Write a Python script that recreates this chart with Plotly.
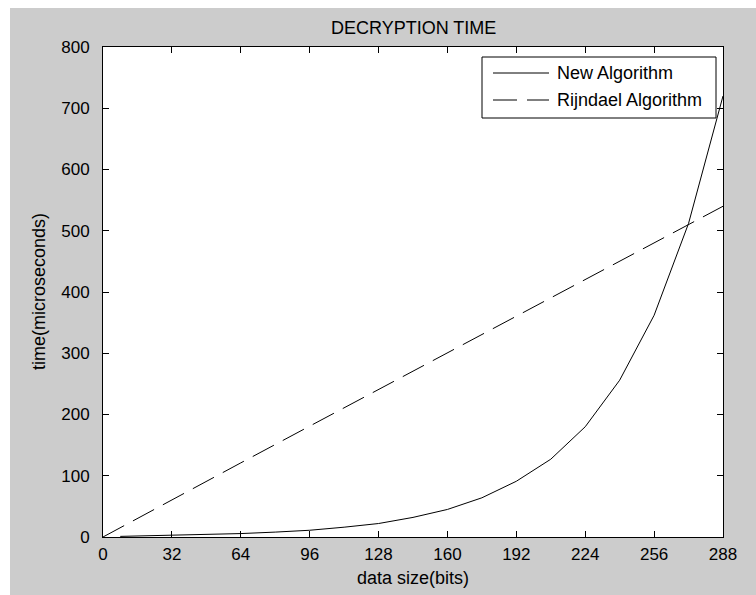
import plotly.graph_objects as go

# Decryption time versus data size for the two ciphers
size_new = [8, 16, 32, 48, 64, 80, 96, 112, 128, 144, 160, 176, 192, 208, 224, 240, 256, 272, 288]
time_new = [1, 1.5, 2.8, 4, 5.6, 8, 11, 16, 22, 32, 45, 64, 91, 127, 180, 256, 362, 512, 720]

size_rijndael = [0, 32, 64, 96, 128, 160, 192, 224, 256, 288]
time_rijndael = [0, 61, 121, 181, 241, 301, 361, 421, 481, 540]

x_ticks = [0, 32, 64, 96, 128, 160, 192, 224, 256, 288]
y_ticks = [0, 100, 200, 300, 400, 500, 600, 700, 800]

series_names = ["New Algorithm", "Rijndael Algorithm"]

FONT = "Liberation Sans, Arial, sans-serif"
GRAY = "#cccccc"

W, H = 756, 595
L, R, T, B = 103, 33, 47, 58
PW, PH = W - L - R, H - T - B


def px_x(p):
    return (p - L) / PW


def px_y(p):
    return 1 - (p - T) / PH


fig = go.Figure()
fig.add_trace(go.Scatter(x=size_new, y=time_new, mode="lines", name=series_names[0],
                         line=dict(color="black", width=1), showlegend=False))
fig.add_trace(go.Scatter(x=size_rijndael, y=time_rijndael, mode="lines", name=series_names[1],
                         line=dict(color="black", width=1, dash="24px,10px"), showlegend=False))

axis_common = dict(showline=True, linecolor="black", linewidth=1, mirror="ticks",
                   ticks="inside", ticklen=6, tickcolor="black", tickwidth=1,
                   showgrid=False, zeroline=False,
                   tickfont=dict(family=FONT, size=17, color="black"))

fig.update_xaxes(range=[0, 288], tickvals=x_ticks, ticktext=[str(v) for v in x_ticks],
                 ticklabelstandoff=2, **axis_common)
fig.update_yaxes(range=[0, 800], tickvals=y_ticks, ticktext=[str(v) for v in y_ticks],
                 ticklabelstandoff=9, **axis_common)

shapes = [
    # white strips around the grey figure
    dict(type="rect", xref="paper", yref="paper", x0=px_x(0), x1=px_x(10), y0=px_y(H), y1=px_y(0),
         fillcolor="white", line=dict(width=0), layer="below"),
    dict(type="rect", xref="paper", yref="paper", x0=px_x(0), x1=px_x(W), y0=px_y(8), y1=px_y(0),
         fillcolor="white", line=dict(width=0), layer="below"),
    # legend box
    dict(type="rect", xref="paper", yref="paper", x0=px_x(482), x1=px_x(716), y0=px_y(118), y1=px_y(57),
         fillcolor="white", line=dict(color="black", width=1), layer="above"),
    dict(type="line", xref="paper", yref="paper", x0=px_x(493), x1=px_x(549), y0=px_y(73), y1=px_y(73),
         line=dict(color="black", width=1), layer="above"),
    dict(type="line", xref="paper", yref="paper", x0=px_x(493), x1=px_x(549), y0=px_y(100), y1=px_y(100),
         line=dict(color="black", width=1, dash="24px,10px"), layer="above"),
]

annotations = [
    dict(text=series_names[0], xref="paper", yref="paper", x=px_x(555), y=px_y(73),
         xanchor="left", yanchor="middle", showarrow=False,
         font=dict(family=FONT, size=18, color="black")),
    dict(text=series_names[1], xref="paper", yref="paper", x=px_x(555), y=px_y(100),
         xanchor="left", yanchor="middle", showarrow=False,
         font=dict(family=FONT, size=18, color="black")),
    dict(text="data size(bits)", xref="paper", yref="paper", x=0.5, y=px_y(578),
         xanchor="center", yanchor="middle", showarrow=False,
         font=dict(family=FONT, size=18, color="black")),
    dict(text="time(microseconds)", xref="paper", yref="paper", x=px_x(39), y=0.5,
         xanchor="center", yanchor="middle", textangle=-90, showarrow=False,
         font=dict(family=FONT, size=18, color="black")),
    dict(text="DECRYPTION TIME", xref="paper", yref="paper", x=0.5, y=px_y(28),
         xanchor="center", yanchor="middle", showarrow=False,
         font=dict(family=FONT, size=18, color="black")),
]

fig.update_layout(
    width=W, height=H,
    margin=dict(l=L, r=R, t=T, b=B, pad=0),
    paper_bgcolor=GRAY, plot_bgcolor="white",
    shapes=shapes, annotations=annotations,
    showlegend=False,
)

fig.write_html("out.html")
